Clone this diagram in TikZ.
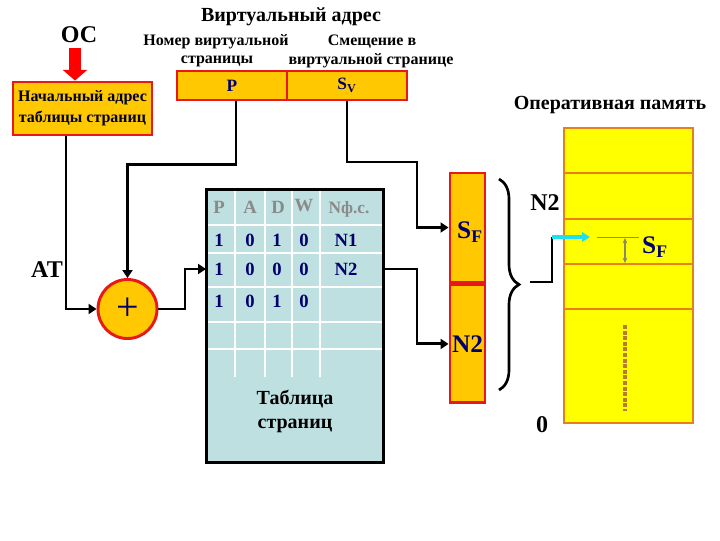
\documentclass[tikz,border=0pt]{standalone}
\usepackage{fontspec}
\setmainfont{Liberation Serif}
\usetikzlibrary{arrows.meta,decorations.pathreplacing,calc}
\definecolor{orfill}{HTML}{FFC800}
\definecolor{redb}{HTML}{E81818}
\definecolor{tblue}{HTML}{BEE0E0}
\definecolor{navy}{HTML}{00006E}
\definecolor{memfill}{HTML}{FFFF00}
\definecolor{memline}{HTML}{E8801A}
\definecolor{cyanar}{HTML}{20E0F0}
\definecolor{hgrey}{HTML}{8A8A8A}
\definecolor{dashc}{HTML}{B87A30}
\definecolor{thing}{HTML}{8A8A6A}
\begin{document}
\begin{tikzpicture}[x=0.75pt,y=-0.75pt,
  obox/.style={draw=redb, fill=orfill, line width=2.2pt, inner sep=0pt},
  wire/.style={line width=2.2pt, line join=miter},
  conn/.style={wire, -{Triangle[length=6pt,width=7.5pt]}},
  big/.style={font=\bfseries\fontsize{18}{20}\selectfont},
  head/.style={font=\bfseries\fontsize{15}{17}\selectfont},
  sub/.style={font=\bfseries\fontsize{12}{14}\selectfont},
  tnum/.style={font=\bfseries\fontsize{14}{16}\selectfont, text=navy},
  thd/.style={font=\bfseries\fontsize{14}{16}\selectfont, text=hgrey},
  colt/.style={font=\bfseries\fontsize{19}{21}\selectfont, text=navy}]
\useasboundingbox (0,0) rectangle (720,540);
\fill[white] (0,0) rectangle (720,540);

% titles
\node[big] (os) at (79,35) {ОС};
\node[head] (va) at (291,17) {Виртуальный адрес};
\node[sub] (nv1) at (216,42) {Номер виртуальной};
\node[sub] (nv2) at (217,61) {страницы};
\node[sub] (sm1) at (372,42) {Смещение в};
\node[sub] (sm2) at (371,61) {виртуальной странице};
\node[head] (op) at (610,105) {Оперативная память};
\node[big] (at) at (47,270) {AT};

% start box
\node[obox, minimum width=104.25pt, minimum height=39.75pt, align=center,
      font=\bfseries\fontsize{12}{16}\selectfont, text=black!80!navy] (start) at (82.5,108.5)
      {Начальный адрес\\таблицы страниц};
\draw[line width=9pt, red, -{Triangle[length=8pt,width=18pt]}] (75,48) -- (start.north -| 75,0);

% virtual address
\node[obox, minimum width=82.5pt, minimum height=21.75pt, font=\bfseries\fontsize{13}{15}\selectfont, text=navy] (vp) at (232,85.5) {P};
\node[obox, minimum width=90pt, minimum height=21.75pt, font=\bfseries\fontsize{13}{15}\selectfont, text=navy] (vs) at (347,85.5) {S\textsubscript{V}};

% adder
\node[circle, draw=redb, fill=orfill, line width=2.2pt, minimum size=44.25pt, inner sep=0pt,
      font=\fontsize{30}{30}\selectfont, text=navy] (sum) at (127.5,309) {+};

% page table
\node[draw=black, fill=tblue, line width=1.5pt, minimum width=132pt, minimum height=204pt, inner sep=0pt] (tbl) at (295,326) {};
\foreach \yy in {225,253,287,322,349} \draw[white, line width=1.6pt] (208,\yy) -- (382,\yy);
\foreach \xx in {235,265,292,320} \draw[white, line width=1.6pt] (\xx,191) -- (\xx,377);
\draw[line width=1.5pt] (tbl.north west) rectangle (tbl.south east);
\node[thd] at (219,207) {P};
\node[thd] at (250,207) {A};
\node[thd] at (278,207) {D};
\node[thd] at (304,206) {W};
\node[thd, font=\bfseries\fontsize{13}{15}\selectfont] at (349,209) {Nф.с.};
\foreach \yy/\a/\b/\c/\d/\e in {240/1/0/1/0/N1, 269/1/0/0/0/N2, 301/1/0/1/0/} {
  \node[tnum] at (219,\yy) {\a};
  \node[tnum] at (250,\yy) {\b};
  \node[tnum] at (277,\yy) {\c};
  \node[tnum] at (304,\yy) {\d};
  \node[tnum] at (346,\yy) {\e};
}
\node[font=\bfseries\fontsize{15}{18}\selectfont, align=center] (tcap) at (295,411) {Таблица\\страниц};
\coordinate (r2) at (0,269);

% physical address column
\node[obox, minimum width=26.25pt, minimum height=81.75pt, colt] (sf) at (467.5,227.5) {};
\node[colt] (sft) at (470,232) {S\textsubscript{F}};
\node[obox, minimum width=26.25pt, minimum height=88.5pt, colt, anchor=north] (n2c) at (sf.south) {N2};

% connectors
\draw[conn] ([xshift=-12.4pt]start.south) |- (sum.west);
\draw[conn] ([xshift=3pt]vp.south) -- ++(0,63) -| (sum.north);
\draw[conn] (sum.east) -- (185,309) |- (tbl.west |- r2);
\draw[conn] (vs.south) |- (417,162) |- (sf.west);
\draw[conn] (tbl.east |- r2) -- (417,269) |- (n2c.west);

% brace
\draw[decorate, decoration={brace, amplitude=15pt}, line width=2pt] (499,179) -- (499,390);
\coordinate (bt) at (530,282);
\coordinate (ca) at (552,237);
\draw[wire] (bt) -| (ca);

% memory
\node[draw=memline, fill=memfill, line width=2.2pt, minimum width=96.75pt, minimum height=221.25pt, inner sep=0pt] (mem) at (628.5,275.5) {};
\foreach \yy in {173,219,264,309} \draw[memline, line width=2.2pt] (565,\yy) -- (692,\yy);
\coordinate (ce) at (590,237);
\draw[cyanar, line width=3pt, -{Triangle[length=6pt,width=7pt]}] (ca) -- (ce);
\draw[thing, line width=0.6pt] (597,237) -- (639,237);
\draw[thing, line width=0.8pt, {Stealth[length=4pt,width=3.5pt]}-{Stealth[length=4pt,width=3.5pt]}] (625,238) -- (625,263);
\node[colt] (sfm) at (655,247) {S\textsubscript{F}};
\draw[dashc, line width=3pt, dash pattern=on 3pt off 1.2pt] (625,325) -- (625,411);
\node[big] (n2m) at (545,203) {N2};
\node[big] (zero) at (542,425) {0};
\end{tikzpicture}
\end{document}
